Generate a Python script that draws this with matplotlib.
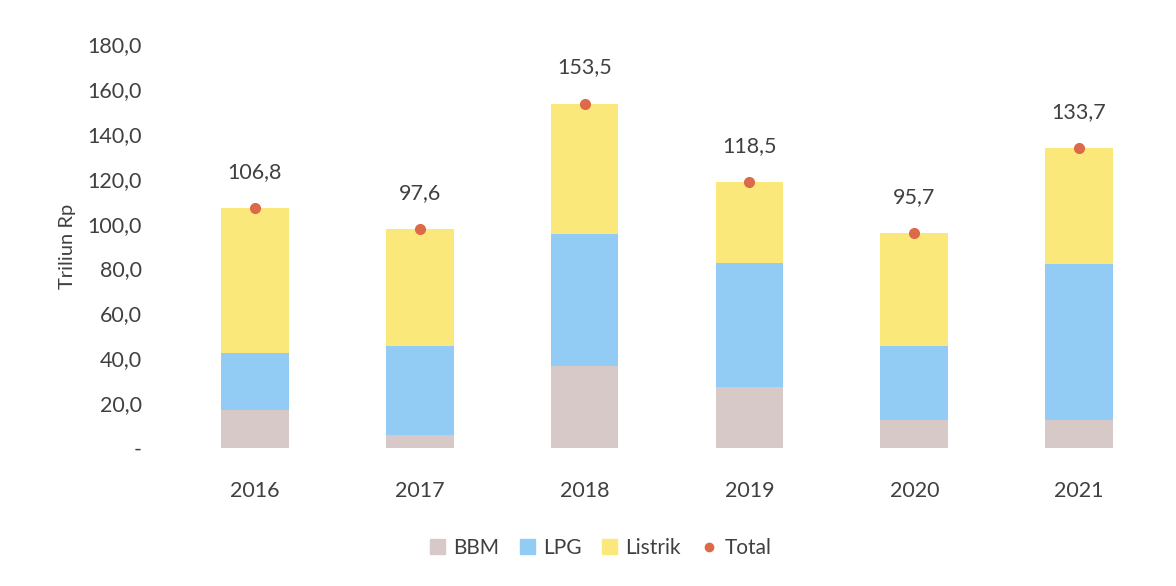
import matplotlib
matplotlib.use("Agg")
import matplotlib.pyplot as plt
from matplotlib.lines import Line2D
from matplotlib.patches import Patch
import numpy as np

years = ["2016", "2017", "2018", "2019", "2020", "2021"]
bbm = [17.0, 5.8, 36.5, 27.4, 12.5, 12.5]
lpg = [25.3, 39.5, 59.0, 55.0, 33.0, 69.6]
listrik = [64.5, 52.3, 58.0, 36.1, 50.2, 51.6]
total = [106.8, 97.6, 153.5, 118.5, 95.7, 133.7]
yticks = [0, 20, 40, 60, 80, 100, 120, 140, 160, 180]

c_bbm = "#d8c9c9"
c_lpg = "#92cbf3"
c_lis = "#fae87a"
c_tot = "#dc6a48"
txt = "#404040"

plt.rcParams['font.family'] = ['Lato', 'DejaVu Sans']

fig = plt.figure(figsize=(11.76, 5.86), dpi=100)
ax = fig.add_axes([0.1467, 0.2355, 0.841, 0.689])

x = np.arange(len(years))
w = 0.41
b1 = np.array(bbm)
b2 = b1 + np.array(lpg)
ax.bar(x, bbm, w, color=c_bbm, label="BBM")
ax.bar(x, lpg, w, bottom=b1, color=c_lpg, label="LPG")
ax.bar(x, listrik, w, bottom=b2, color=c_lis, label="Listrik")
ax.plot(x, total, 'o', color=c_tot, markersize=7, linestyle='none', label="Total")
for xi, t in zip(x, total):
    ax.annotate(f"{t:.1f}".replace(".", ","), (xi, t), xytext=(0, 19),
                textcoords="offset points", ha="center", va="bottom",
                fontsize=15.5, color=txt)

ax.set_xlim(-0.5, len(years) - 0.5)
ax.set_ylim(0, 180)
ax.set_yticks(yticks)
ax.set_yticklabels(["-" if v == 0 else f"{v:.1f}".replace(".", ",") for v in yticks])
ax.set_xticks(x)
ax.set_xticklabels(years)
ax.tick_params(axis='both', length=0, labelsize=15.5, colors=txt)
ax.tick_params(axis='x', pad=24)
ax.tick_params(axis='y', pad=22)
for s in ax.spines.values():
    s.set_visible(False)
ax.set_ylabel("Triliun Rp", fontsize=14.5, color=txt, labelpad=8)

handles = [Patch(color=c_bbm), Patch(color=c_lpg), Patch(color=c_lis),
           Line2D([], [], marker='o', color=c_tot, linestyle='none', markersize=6)]
fig.legend(handles, ["BBM", "LPG", "Listrik", "Total"], loc="center",
           bbox_to_anchor=(0.511, 0.065), ncol=4, frameon=False, fontsize=15,
           handlelength=0.7, handleheight=0.7, handletextpad=0.4, columnspacing=1.0,
           labelcolor=txt)

fig.savefig("out.png", dpi=100)
